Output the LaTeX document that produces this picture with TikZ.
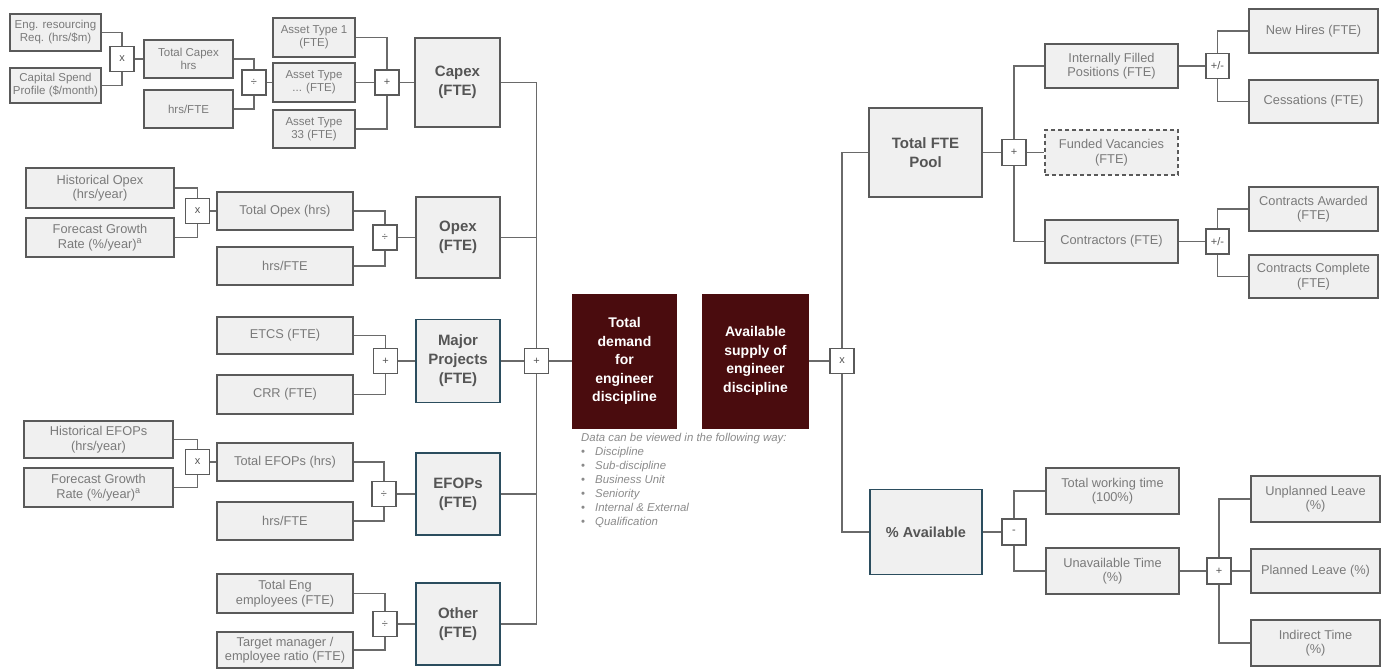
\documentclass[tikz,border=0pt]{standalone}
\usepackage{fontspec}
\setmainfont{Liberation Sans}
\definecolor{boxfill}{HTML}{F0F0F0}
\definecolor{boxline}{HTML}{5A5A5A}
\definecolor{txtgray}{HTML}{7A7A7A}
\definecolor{boldgray}{HTML}{555555}
\definecolor{tealb}{HTML}{2B4D5E}
\definecolor{maroon}{HTML}{4A0C0E}
\definecolor{conncol}{HTML}{6A6A6A}
\definecolor{datagray}{HTML}{8A8A8A}
\begin{document}
\begin{tikzpicture}[x=1pt,y=-1pt,
  sz/.style 2 args={minimum width=#1, minimum height=#2},
  leaf/.style={draw=boxline, fill=boxfill, line width=1.8pt, inner sep=1pt, align=center, text=txtgray, font=\fontsize{12.8}{14.5}\selectfont},
  sleaf/.style={leaf, font=\fontsize{11.5}{13}\selectfont},
  agg/.style={draw=boxline, fill=boxfill, line width=1.8pt, inner sep=1pt, align=center, text=boldgray, font=\bfseries\fontsize{15}{19}\selectfont},
  aggt/.style={agg, draw=tealb},
  keybox/.style={fill=maroon, inner sep=1pt, text=white, align=center, font=\bfseries\fontsize{14}{18.5}\selectfont},
  opbox/.style={draw=boxline, fill=white, line width=1.3pt, minimum width=24pt, minimum height=25pt, inner sep=0pt, text=boldgray, font=\fontsize{11}{12}\selectfont},
  conn/.style={draw=conncol, line width=1.4pt},
]
\useasboundingbox (0,0) rectangle (1386,670);

% ---------- Capex cluster ----------
\node[sleaf, sz={91pt}{37pt}] (eng) at (55.5,32.5) {Eng. resourcing\\Req. (hrs/\$m)};
\node[sleaf, sz={91pt}{35pt}] (csp) at (55.5,85.5) {Capital Spend\\Profile (\$/month)};
\node[opbox] (opx1) at (122,59) {x};
\node[sleaf, sz={89pt}{38pt}] (tch) at (188.5,59) {Total Capex\\hrs};
\node[sleaf, sz={89pt}{38pt}] (hf1) at (188.5,109) {hrs/FTE};
\node[opbox] (opd1) at (254,82.5) {÷};
\node[sleaf, sz={82pt}{39pt}] (at1) at (314,37.5) {Asset Type 1\\(FTE)};
\node[sleaf, sz={82pt}{39pt}] (atd) at (314,82.5) {Asset Type\\... (FTE)};
\node[sleaf, sz={82pt}{38pt}] (at33) at (314,129) {Asset Type\\33 (FTE)};
\node[opbox] (opp1) at (387,82.5) {+};
\node[agg, sz={85pt}{89pt}] (capex) at (457.5,82.5) {Capex\\(FTE)};

% ---------- Opex cluster ----------
\node[leaf, sz={148pt}{40pt}] (hop) at (100,188) {Historical Opex\\(hrs/year)};
\node[leaf, sz={148pt}{39pt}] (fgr1) at (100,237.5) {Forecast Growth\\Rate (\%/year)\textsuperscript{a}};
\node[opbox] (opx2) at (197.5,211) {x};
\node[leaf, sz={136pt}{38pt}] (tot) at (285,211) {Total Opex (hrs)};
\node[leaf, sz={136pt}{38pt}] (hf2) at (285,266) {hrs/FTE};
\node[opbox] (opd2) at (385,237.5) {÷};
\node[agg, sz={84pt}{81pt}] (opex) at (458,237.5) {Opex\\(FTE)};

% ---------- Major projects ----------
\node[leaf, sz={136pt}{37pt}] (etcs) at (285,335.5) {ETCS (FTE)};
\node[leaf, sz={136pt}{39pt}] (crr) at (285,394.5) {CRR (FTE)};
\node[opbox] (opp2) at (385.5,361) {+};
\node[aggt, sz={84pt}{83pt}] (major) at (458,361) {Major\\Projects\\(FTE)};

% ---------- EFOPs ----------
\node[leaf, sz={149pt}{37pt}] (hef) at (98.5,439.5) {Historical EFOPs\\(hrs/year)};
\node[leaf, sz={149pt}{39pt}] (fgr2) at (98.5,487.5) {Forecast Growth\\Rate (\%/year)\textsuperscript{a}};
\node[opbox] (opx3) at (197.5,462) {x};
\node[leaf, sz={136pt}{38pt}] (tef) at (285,462) {Total EFOPs (hrs)};
\node[leaf, sz={136pt}{38pt}] (hf3) at (285,521) {hrs/FTE};
\node[opbox] (opd3) at (384,494) {÷};
\node[aggt, sz={84pt}{82pt}] (efops) at (458,494) {EFOPs\\(FTE)};

% ---------- Other ----------
\node[leaf, sz={136pt}{39pt}] (teng) at (285,593.5) {Total Eng\\employees (FTE)};
\node[leaf, sz={136pt}{36pt}] (tmr) at (285,650) {Target manager /\\employee ratio (FTE)};
\node[opbox] (opd4) at (385,624) {÷};
\node[aggt, sz={84pt}{82pt}] (other) at (458,624) {Other\\(FTE)};

% ---------- Centre ----------
\node[opbox] (opsum) at (536.5,361) {+};
\node[keybox, sz={105pt}{135pt}] (tdem) at (624.5,361) {Total\\demand\\for\\engineer\\discipline};
\node[keybox, sz={107pt}{135pt}] (asup) at (755.5,361) {Available\\supply of\\engineer\\discipline};
\node[opbox] (opx4) at (842,361) {x};
\node[anchor=north west, align=left, inner sep=0pt, text=datagray,
      font=\itshape\fontsize{11.4}{14}\selectfont] (data) at (581,433)
  {Data can be viewed in the following way:\\
   \makebox[14pt][l]{\upshape•}Discipline\\
   \makebox[14pt][l]{\upshape•}Sub-discipline\\
   \makebox[14pt][l]{\upshape•}Business Unit\\
   \makebox[14pt][l]{\upshape•}Seniority\\
   \makebox[14pt][l]{\upshape•}Internal \& External\\
   \makebox[14pt][l]{\upshape•}Qualification};

% ---------- Supply: Total FTE Pool ----------
\node[agg, sz={113pt}{89pt}] (tfp) at (925.5,152.5) {Total FTE\\Pool};
\node[opbox, minimum height=26pt] (opp3) at (1014,152.5) {+};
\node[leaf, sz={133pt}{44pt}] (ifp) at (1111.5,66) {Internally Filled\\Positions (FTE)};
\node[leaf, sz={133pt}{45pt}, dashed, dash pattern=on 4pt off 3pt] (fv) at (1111.5,152.5) {Funded Vacancies\\(FTE)};
\node[leaf, sz={133pt}{43pt}] (con) at (1111.5,241.5) {Contractors (FTE)};
\node[opbox, minimum width=23pt] (opm1) at (1217.5,66) {+/-};
\node[leaf, sz={129pt}{44pt}] (nh) at (1313.5,31) {New Hires (FTE)};
\node[leaf, sz={129pt}{43pt}] (ces) at (1313.5,101.5) {Cessations (FTE)};
\node[opbox, minimum width=23pt] (opm2) at (1217.5,241.5) {+/-};
\node[leaf, sz={129pt}{44pt}] (caw) at (1313.5,209) {Contracts Awarded\\(FTE)};
\node[leaf, sz={129pt}{43pt}] (ccp) at (1313.5,276.5) {Contracts Complete\\(FTE)};

% ---------- Supply: % Available ----------
\node[aggt, sz={112pt}{85pt}, font=\bfseries\fontsize{14.5}{18}\selectfont] (pav) at (926,532) {\% Available};
\node[opbox, minimum height=26pt] (opm3) at (1014,532) {-};
\node[leaf, sz={133pt}{46pt}] (twt) at (1112.5,491) {Total working time\\(100\%)};
\node[leaf, sz={133pt}{46pt}] (unv) at (1112.5,571) {Unavailable Time\\(\%)};
\node[opbox, minimum height=26pt] (opp4) at (1219,571) {+};
\node[leaf, sz={129pt}{46pt}] (upl) at (1315.5,499) {Unplanned Leave\\(\%)};
\node[leaf, sz={129pt}{44pt}] (pl) at (1315.5,571) {Planned Leave (\%)};
\node[leaf, sz={129pt}{46pt}] (ind) at (1315.5,643) {Indirect Time\\(\%)};

% ---------- Connectors ----------
\draw[conn] (eng.east) -| (opx1.north);
\draw[conn] (csp.east) -| (opx1.south);
\draw[conn] (opx1.east) -- (tch.west);
\draw[conn] (tch.east) -| (opd1.north);
\draw[conn] (hf1.east) -| (opd1.south);
\draw[conn] (opd1.east) -- (atd.west);
\draw[conn] (at1.east) -| (opp1.north);
\draw[conn] (at33.east) -| (opp1.south);
\draw[conn] (atd.east) -- (opp1.west);
\draw[conn] (opp1.east) -- (capex.west);

\draw[conn] (hop.east) -| (opx2.north);
\draw[conn] (fgr1.east) -| (opx2.south);
\draw[conn] (opx2.east) -- (tot.west);
\draw[conn] (tot.east) -| (opd2.north);
\draw[conn] (hf2.east) -| (opd2.south);
\draw[conn] (opd2.east) -- (opex.west);

\draw[conn] (etcs.east) -| (opp2.north);
\draw[conn] (crr.east) -| (opp2.south);
\draw[conn] (opp2.east) -- (major.west);

\draw[conn] (hef.east) -| (opx3.north);
\draw[conn] (fgr2.east) -| (opx3.south);
\draw[conn] (opx3.east) -- (tef.west);
\draw[conn] (tef.east) -| (opd3.north);
\draw[conn] (hf3.east) -| (opd3.south);
\draw[conn] (opd3.east) -- (efops.west);

\draw[conn] (teng.east) -| (opd4.north);
\draw[conn] (tmr.east) -| (opd4.south);
\draw[conn] (opd4.east) -- (other.west);

\draw[conn] (capex.east) -| (opsum.north);
\draw[conn] (opex.east) -| (opsum.north);
\draw[conn] (efops.east) -| (opsum.south);
\draw[conn] (other.east) -| (opsum.south);
\draw[conn] (major.east) -- (opsum.west);
\draw[conn] (opsum.east) -- (tdem.west);

\draw[conn] (asup.east) -- (opx4.west);
\draw[conn] (tfp.west) -| (opx4.north);
\draw[conn] (pav.west) -| (opx4.south);

\draw[conn] (tfp.east) -- (opp3.west);
\draw[conn] (ifp.west) -| (opp3.north);
\draw[conn] (con.west) -| (opp3.south);
\draw[conn] (opp3.east) -- (fv.west);

\draw[conn] (ifp.east) -- (opm1.west);
\draw[conn] (nh.west) -| (opm1.north);
\draw[conn] (ces.west) -| (opm1.south);

\draw[conn] (con.east) -- (opm2.west);
\draw[conn] (caw.west) -| (opm2.north);
\draw[conn] (ccp.west) -| (opm2.south);

\draw[conn] (pav.east) -- (opm3.west);
\draw[conn] (twt.west) -| (opm3.north);
\draw[conn] (unv.west) -| (opm3.south);

\draw[conn] (unv.east) -- (opp4.west);
\draw[conn] (upl.west) -| (opp4.north);
\draw[conn] (ind.west) -| (opp4.south);
\draw[conn] (opp4.east) -- (pl.west);
\end{tikzpicture}
\end{document}
